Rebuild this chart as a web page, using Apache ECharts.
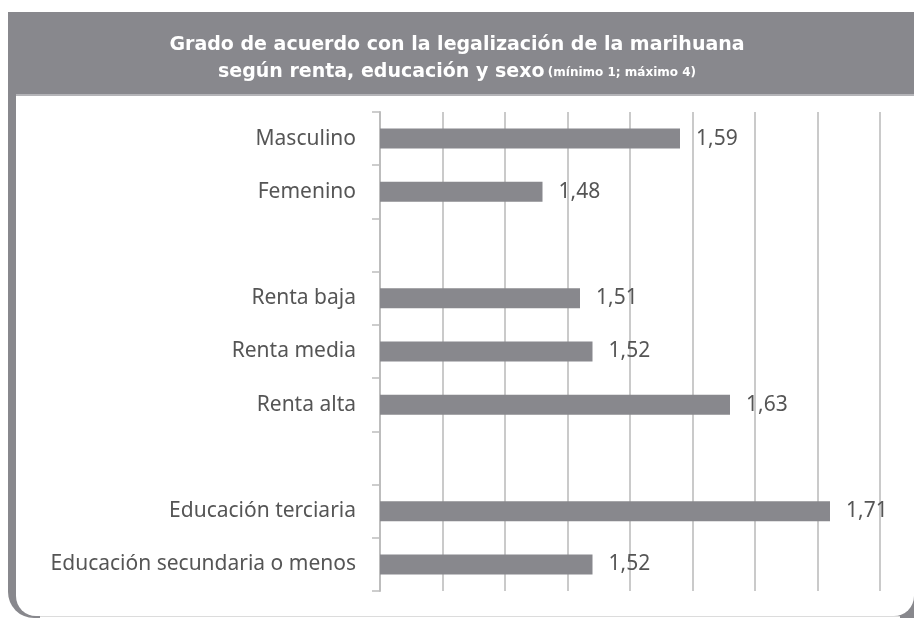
<!DOCTYPE html>
<html>
<head>
<meta charset="utf-8">
<script src="https://cdn.jsdelivr.net/npm/echarts@6/dist/echarts.min.js"></script>
<style>
html,body{margin:0;padding:0;background:#fff;}
#chart{width:914px;height:619px;}
</style>
</head>
<body>
<div id="chart"></div>
<script>
var categories = ['Masculino', 'Femenino', '', 'Renta baja', 'Renta media', 'Renta alta', ' ', 'Educación terciaria', 'Educación secundaria o menos'];
var values = [1.59, 1.48, null, 1.51, 1.52, 1.63, null, 1.71, 1.52];
var titleLine1 = 'Grado de acuerdo con la legalización de la marihuana';
var titleLine2 = 'según renta, educación y sexo';
var titleNote = '(mínimo 1; máximo 4)';

var chart = echarts.init(document.getElementById('chart'));
var grayDark = '#88888d';
chart.setOption({
  animation: false,
  graphic: [
    { type: 'rect', z: -10, shape: { x: 8, y: 12, width: 930, height: 606, r: [0, 0, 0, 26] }, style: { fill: grayDark } },
    { type: 'rect', z: -9, shape: { x: 16, y: 96, width: 898, height: 520, r: [0, 0, 20, 20] }, style: { fill: '#ffffff' } },
    { type: 'rect', z: -8, shape: { x: 40, y: 616, width: 860, height: 3 }, style: { fill: '#ffffff' } },
    { type: 'rect', z: -7, shape: { x: 40, y: 616, width: 860, height: 1 }, style: { fill: '#dcdcdc' } },
    { type: 'rect', z: -9, shape: { x: 16, y: 94, width: 898, height: 2 }, style: { fill: '#b4b4b8' } },
    { type: 'text', left: 'center', top: 36, style: { text: titleLine1, fill: '#ffffff', font: 'bold 19px "DejaVu Sans"', textAlign: 'center' } },
    { type: 'text', left: 'center', top: 63, style: {
        text: '{a|' + titleLine2 + '} {b|' + titleNote + '}',
        rich: { a: { fill: '#ffffff', font: 'bold 19px "DejaVu Sans"' }, b: { fill: '#ffffff', font: 'bold 12px "DejaVu Sans"' } }
      } }
  ],
  grid: { left: 380, right: 34, top: 112, bottom: 28, containLabel: false },
  xAxis: {
    type: 'value', min: 1.35, max: 1.75, interval: 0.05,
    axisLabel: { show: false }, axisLine: { show: false }, axisTick: { show: false },
    splitLine: { show: true, lineStyle: { color: '#cacaca', width: 2 } }
  },
  yAxis: {
    type: 'category', inverse: true, data: categories,
    axisLine: { show: true, lineStyle: { color: '#bdbdbd', width: 2 } },
    axisTick: { show: true, length: 8, lineStyle: { color: '#bdbdbd', width: 1.5 } },
    axisLabel: { margin: 24, color: '#555555', fontFamily: 'Noto Sans', fontSize: 21 }
  },
  series: [{
    type: 'bar', data: values, barWidth: 20,
    itemStyle: { color: grayDark },
    label: {
      show: true, position: 'right', distance: 16, color: '#555555', fontFamily: 'Noto Sans', fontSize: 21,
      formatter: function (p) { return p.value == null ? '' : p.value.toFixed(2).replace('.', ','); }
    }
  }]
});
</script>
</body>
</html>
